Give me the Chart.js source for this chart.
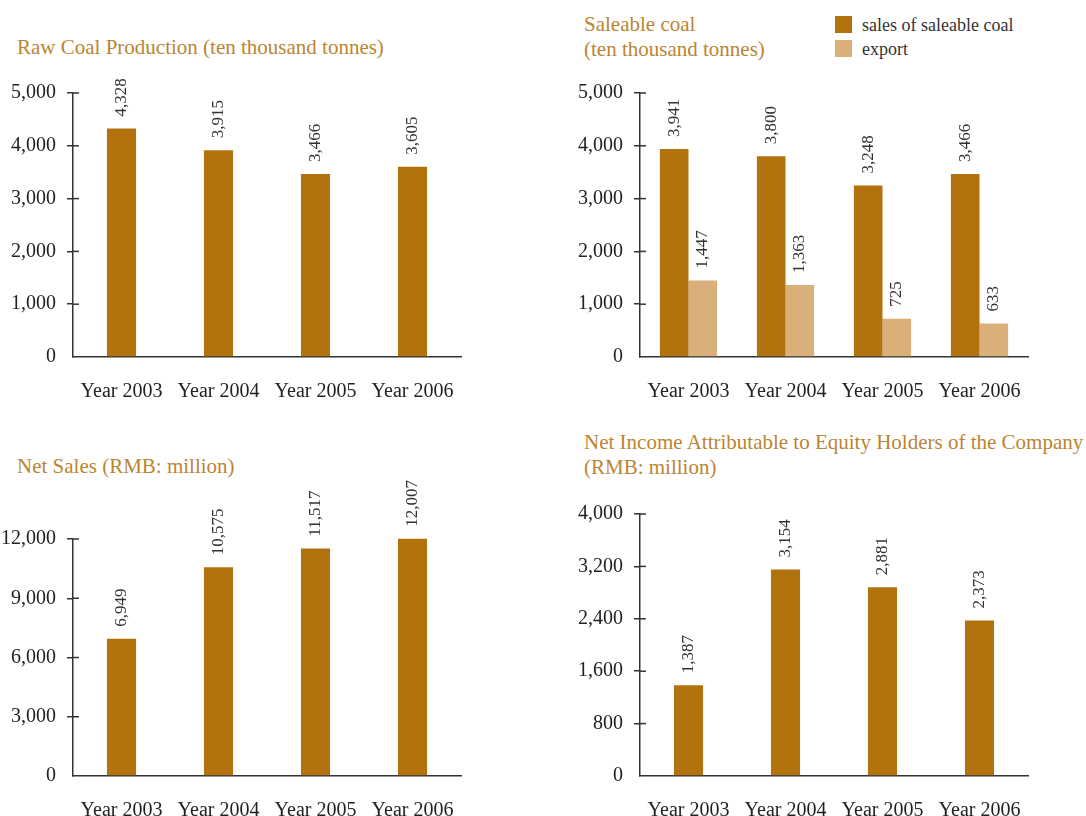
<!DOCTYPE html>
<html>
<head>
<meta charset="utf-8">
<script src="https://cdn.jsdelivr.net/npm/chart.js@4"></script>
<style>
  body { margin: 0; background: #fff; width: 1086px; height: 816px; position: relative; overflow: hidden;
         font-family: "Liberation Serif", "DejaVu Serif", serif; }
  canvas { position: absolute; }
  .title { position: absolute; color: #BA8532; font-size: 21px; line-height: 25px; white-space: nowrap; }
  .legend { position: absolute; color: #333; font-size: 18px; line-height: 24px; white-space: nowrap; }
  .legend span { display: inline-block; width: 17px; height: 17px; vertical-align: -2px; margin-right: 10px; }
</style>
</head>
<body>
<div class="title" style="left:17px; top:35px;">Raw Coal Production (ten thousand tonnes)</div>
<div class="title" style="left:584px; top:12px;">Saleable coal<br>(ten thousand tonnes)</div>
<div class="legend" id="legend" style="left:835px; top:13px;"></div>
<div class="title" style="left:17px; top:454px;">Net Sales (RMB: million)</div>
<div class="title" style="left:584px; top:430px;">Net Income Attributable to Equity Holders of the Company<br>(RMB: million)</div>

<canvas id="c1" width="470" height="347" style="left:0; top:60px;"></canvas>
<canvas id="c2" width="470" height="347" style="left:567px; top:60px;"></canvas>
<canvas id="c3" width="470" height="356" style="left:0; top:470px;"></canvas>
<canvas id="c4" width="470" height="346" style="left:567px; top:480px;"></canvas>

<script>
// 数据
const years = ['Year 2003', 'Year 2004', 'Year 2005', 'Year 2006'];
const rawCoal = [4328, 3915, 3466, 3605];
const saleableSales = [3941, 3800, 3248, 3466];
const saleableExport = [1447, 1363, 725, 633];
const netSales = [6949, 10575, 11517, 12007];
const netIncome = [1387, 3154, 2881, 2373];

const BROWN = '#B2730F';
const TAN = '#D9AF7A';
const INK = '#333';
const FONT = '"Liberation Serif", "DejaVu Serif", serif';

// 柱顶竖排数值
const valueLabels = {
    id: 'valueLabels',
    afterDatasetsDraw(chart) {
        const ctx = chart.ctx;
        ctx.save();
        ctx.font = '17px ' + FONT;
        ctx.fillStyle = INK;
        ctx.textAlign = 'left';
        ctx.textBaseline = 'middle';
        chart.data.datasets.forEach((ds, i) => {
            chart.getDatasetMeta(i).data.forEach((bar, j) => {
                ctx.save();
                ctx.translate(bar.x, bar.y - 12);
                ctx.rotate(-Math.PI / 2);
                ctx.fillText(ds.data[j].toLocaleString('en-US'), 0, 0);
                ctx.restore();
            });
        });
        ctx.restore();
    }
};

// y 轴刻度向内的一半
const innerTicks = {
    id: 'innerTicks',
    afterDraw(chart) {
        const y = chart.scales.y;
        const ctx = chart.ctx;
        ctx.save();
        ctx.strokeStyle = INK;
        ctx.lineWidth = 1.5;
        y.ticks.forEach(t => {
            if (t.value === 0) return;
            const py = y.getPixelForValue(t.value);
            ctx.beginPath();
            ctx.moveTo(chart.chartArea.left, py);
            ctx.lineTo(chart.chartArea.left + 6, py);
            ctx.stroke();
        });
        ctx.restore();
    }
};

function makeChart(id, datasets, yMax, yStep, padTop, catPct, barPct) {
    const ctx = document.getElementById(id).getContext('2d');
    return new Chart(ctx, {
        type: 'bar',
        data: {
            labels: years,
            datasets: datasets.map(d => Object.assign({
                categoryPercentage: catPct,
                barPercentage: barPct,
                borderWidth: 0
            }, d))
        },
        options: {
            responsive: false,
            animation: false,
            layout: { padding: { top: padTop, right: 9, left: 0, bottom: 0 } },
            plugins: { legend: { display: false }, tooltip: { enabled: false } },
            scales: {
                x: {
                    grid: { drawOnChartArea: false, drawTicks: false },
                    border: { color: INK, width: 1.5 },
                    ticks: { font: { family: FONT, size: 20 }, color: '#222', padding: 23, maxRotation: 0 },
                    afterFit(s) { s.height = 50; s.paddingLeft = 0; s.paddingRight = 0; }
                },
                y: {
                    min: 0,
                    max: yMax,
                    ticks: {
                        stepSize: yStep,
                        font: { family: FONT, size: 20 },
                        color: '#222',
                        padding: 11,
                        callback: v => v.toLocaleString('en-US')
                    },
                    grid: {
                        drawOnChartArea: false,
                        drawTicks: true,
                        tickLength: 6,
                        lineWidth: 1.5,
                        color: c => (c.tick && c.tick.value === 0) ? 'rgba(0,0,0,0)' : INK
                    },
                    border: { color: INK, width: 1.5 },
                    afterFit(s) { s.width = 73; }
                }
            }
        },
        plugins: [valueLabels, innerTicks]
    });
}

makeChart('c1', [{ label: 'Raw Coal Production', data: rawCoal, backgroundColor: BROWN }], 5000, 1000, 33, 1, 0.3);
const c2 = makeChart('c2', [
    { label: 'sales of saleable coal', data: saleableSales, backgroundColor: BROWN },
    { label: 'export', data: saleableExport, backgroundColor: TAN }
], 5000, 1000, 33, 0.59, 1);
makeChart('c3', [{ label: 'Net Sales', data: netSales, backgroundColor: BROWN, clip: false }], 12000, 3000, 69, 1, 0.3);
makeChart('c4', [{ label: 'Net Income', data: netIncome, backgroundColor: BROWN }], 4000, 800, 34, 1, 0.3);

// 图例
document.getElementById('legend').innerHTML = c2.data.datasets
    .map(d => '<div><span style="background:' + d.backgroundColor + '"></span>' + d.label + '</div>')
    .join('');
</script>
</body>
</html>
